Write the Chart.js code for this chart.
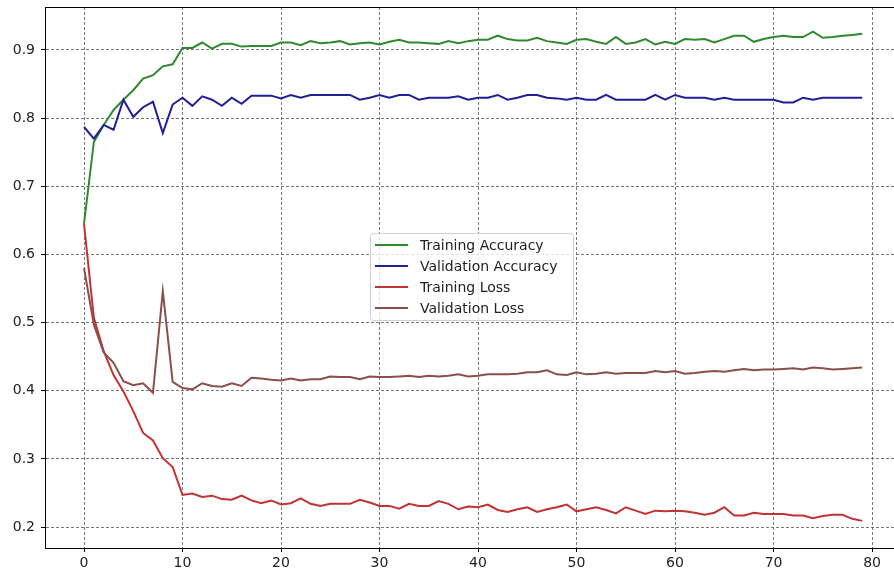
<!DOCTYPE html>
<html>
<head>
<meta charset="utf-8">
<script src="https://cdn.jsdelivr.net/npm/chart.js@4.4.1/dist/chart.umd.min.js"></script>
<style>
html, body { margin: 0; padding: 0; background: #fff; overflow: hidden; }
#wrap { position: absolute; left: 0; top: 0; width: 910px; height: 576px; }
</style>
</head>
<body>
<div id="wrap"><canvas id="chart" width="910" height="576"></canvas></div>
<script>
const epochs = Array.from({ length: 80 }, (_, i) => i);
const xTicks = [0, 10, 20, 30, 40, 50, 60, 70, 80];
const yTicks = [0.2, 0.3, 0.4, 0.5, 0.6, 0.7, 0.8, 0.9];

const trainAcc = [0.645,0.765,0.790,0.812,0.827,0.841,0.858,0.863,0.876,0.879,
  0.903,0.903,0.911,0.902,0.909,0.909,0.905,0.906,0.906,0.906,
  0.911,0.911,0.907,0.913,0.910,0.911,0.913,0.908,0.910,0.911,
  0.908,0.912,0.915,0.911,0.911,0.910,0.909,0.913,0.910,0.913,
  0.915,0.915,0.921,0.916,0.914,0.914,0.918,0.913,0.911,0.909,
  0.915,0.916,0.912,0.909,0.919,0.909,0.911,0.916,0.908,0.912,
  0.909,0.916,0.915,0.916,0.911,0.916,0.921,0.921,0.912,0.916,
  0.919,0.921,0.919,0.919,0.927,0.918,0.919,0.921,0.922,0.924];

const valAcc = [0.787,0.770,0.790,0.783,0.827,0.802,0.816,0.824,0.778,0.820,
  0.830,0.818,0.832,0.827,0.818,0.830,0.821,0.833,0.833,0.833,
  0.829,0.834,0.830,0.834,0.834,0.834,0.834,0.834,0.827,0.830,
  0.834,0.830,0.834,0.834,0.827,0.830,0.830,0.830,0.832,0.827,
  0.830,0.830,0.834,0.827,0.830,0.834,0.834,0.830,0.829,0.827,
  0.830,0.827,0.827,0.834,0.827,0.827,0.827,0.827,0.834,0.827,
  0.834,0.830,0.830,0.830,0.827,0.830,0.827,0.827,0.827,0.827,
  0.827,0.823,0.823,0.830,0.827,0.830,0.830,0.830,0.830,0.830];

const trainLoss = [0.645,0.507,0.458,0.423,0.399,0.370,0.338,0.327,0.301,0.288,
  0.247,0.249,0.244,0.246,0.241,0.240,0.246,0.239,0.235,0.239,
  0.233,0.235,0.242,0.234,0.231,0.234,0.234,0.234,0.240,0.236,
  0.231,0.231,0.227,0.234,0.231,0.231,0.238,0.234,0.226,0.230,
  0.229,0.233,0.225,0.222,0.226,0.229,0.222,0.226,0.229,0.233,
  0.223,0.226,0.229,0.225,0.220,0.229,0.224,0.219,0.224,0.223,
  0.224,0.223,0.221,0.218,0.221,0.229,0.217,0.217,0.221,0.219,
  0.219,0.219,0.217,0.217,0.213,0.216,0.218,0.218,0.212,0.209];

const valLoss = [0.580,0.497,0.456,0.441,0.414,0.408,0.411,0.397,0.546,0.413,
  0.404,0.402,0.411,0.407,0.406,0.411,0.407,0.419,0.418,0.416,
  0.415,0.418,0.415,0.417,0.417,0.421,0.420,0.420,0.417,0.421,
  0.420,0.420,0.421,0.422,0.420,0.422,0.421,0.422,0.424,0.421,
  0.422,0.424,0.424,0.424,0.425,0.427,0.427,0.430,0.424,0.423,
  0.427,0.424,0.425,0.427,0.425,0.426,0.426,0.426,0.429,0.427,
  0.429,0.425,0.426,0.428,0.429,0.428,0.430,0.432,0.430,0.431,
  0.431,0.432,0.433,0.431,0.434,0.433,0.431,0.432,0.433,0.434];

const FONT = "'DejaVu Sans', sans-serif";

function line(label, values, color, order) {
  return {
    label,
    data: values,
    borderColor: color,
    backgroundColor: color,
    borderWidth: 2,
    pointRadius: 0,
    tension: 0,
    fill: false,
    order
  };
}

// matplotlib-style frame + legend inside the plot
const framePlugin = {
  id: "frame",
  afterDraw(chart) {
    const { ctx, chartArea: a } = chart;
    ctx.save();
    ctx.strokeStyle = "#000";
    ctx.lineWidth = 1;
    ctx.strokeRect(a.left + 0.5, a.top + 0.5, a.right - a.left, a.bottom - a.top);

    const bx = 370, by = 233, bw = 203, bh = 87;
    ctx.fillStyle = "rgba(255,255,255,0.8)";
    ctx.strokeStyle = "#d0d0d0";
    ctx.beginPath();
    ctx.roundRect(bx + 0.5, by + 0.5, bw, bh, 3);
    ctx.fill();
    ctx.stroke();

    ctx.font = "14px " + FONT;
    ctx.textBaseline = "middle";
    ctx.fillStyle = "#222";
    chart.data.datasets.forEach((ds, i) => {
      const y = 245 + i * 21;
      ctx.strokeStyle = ds.borderColor;
      ctx.lineWidth = 2;
      ctx.beginPath();
      ctx.moveTo(375, y);
      ctx.lineTo(408, y);
      ctx.stroke();
      ctx.fillText(ds.label, 420, y + 1);
    });
    ctx.restore();
  }
};

new Chart(document.getElementById("chart"), {
  type: "line",
  data: {
    labels: epochs,
    datasets: [
      line("Training Accuracy", trainAcc, "#2f8a2f", 4),
      line("Validation Accuracy", valAcc, "#1f1f96", 3),
      line("Training Loss", trainLoss, "#c23232", 2),
      line("Validation Loss", valLoss, "#8a4e4b", 1)
    ]
  },
  options: {
    responsive: false,
    animation: false,
    devicePixelRatio: 1,
    layout: { padding: { top: 7, right: 9, left: 0, bottom: 0 } },
    plugins: { legend: { display: false }, tooltip: { enabled: false } },
    scales: {
      x: {
        type: "linear",
        min: -3.96,
        max: 82.94,
        afterBuildTicks: s => { s.ticks = xTicks.map(v => ({ value: v })); },
        afterFit: s => { s.height = 28; s.paddingLeft = 0; s.paddingRight = 0; },
        ticks: { font: { family: FONT, size: 14 }, color: "#222", padding: 3, maxRotation: 0 },
        grid: { color: "#555", lineWidth: 0.8, tickLength: 4, tickColor: "#000", tickWidth: 1 },
        border: { display: true, color: "#000", width: 1, dash: [3, 2] }
      },
      y: {
        min: 0.1692,
        max: 0.9631,
        afterBuildTicks: s => { s.ticks = yTicks.map(v => ({ value: v })); },
        afterFit: s => { s.width = 45; s.paddingTop = 0; s.paddingBottom = 0; },
        ticks: { font: { family: FONT, size: 14 }, color: "#222", padding: 6, callback: v => v.toFixed(1) },
        grid: { color: "#555", lineWidth: 0.8, tickLength: 4, tickColor: "#000", tickWidth: 1 },
        border: { display: true, color: "#000", width: 1, dash: [3, 2] }
      }
    }
  },
  plugins: [framePlugin]
});
</script>
</body>
</html>
